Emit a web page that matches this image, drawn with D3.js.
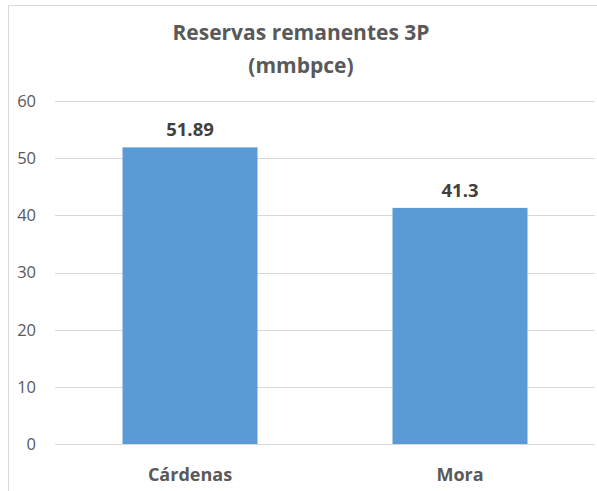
<!DOCTYPE html>
<html>
<head>
<meta charset="utf-8">
<script src="https://cdn.jsdelivr.net/npm/d3@7"></script>
<style>
  body { margin: 0; background: #fff; }
  svg { display: block; font-family: "Open Sans", sans-serif; }
  .grid line { stroke: #d9d9d9; stroke-width: 1; }
  .tick-label { fill: #595959; font-size: 16.5px; }
  .cat-label { fill: #595959; font-size: 18px; font-weight: bold; }
  .val-label { fill: #404040; font-size: 18.5px; font-weight: bold; }
  .title { fill: #595959; font-size: 21px; font-weight: bold; }
</style>
</head>
<body>
<div id="chart"></div>
<script>
// chart data
var categories = ["Cárdenas", "Mora"];
var reservas = [51.89, 41.3];
var valueLabels = ["51.89", "41.3"];
var yTicks = [0, 10, 20, 30, 40, 50, 60];
var titleLines = ["Reservas remanentes 3P", "(mmbpce)"];

var width = 597, height = 491;
var margin = {top: 101, right: 2, bottom: 47, left: 55};
var w = width - margin.left - margin.right;
var h = height - margin.top - margin.bottom;

var svg = d3.select("#chart").append("svg")
    .attr("width", width)
    .attr("height", height);

// chart area border (cropped at right and bottom)
svg.append("rect")
    .attr("x", 8.5).attr("y", 5.5)
    .attr("width", width + 20).attr("height", height + 20)
    .attr("fill", "none")
    .attr("stroke", "#d9d9d9");

var x = d3.scaleBand().domain(categories).range([0, w]).paddingInner(0.5).paddingOuter(0.25);
var y = d3.scaleLinear().domain([0, 60]).range([h, 0]);

var g = svg.append("g").attr("transform", "translate(" + margin.left + "," + margin.top + ")");

// gridlines
g.append("g").attr("class", "grid")
  .selectAll("line")
  .data(yTicks)
  .enter().append("line")
    .attr("x1", 0).attr("x2", w)
    .attr("y1", function(d) { return Math.round(y(d)) + 0.5; })
    .attr("y2", function(d) { return Math.round(y(d)) + 0.5; });

// y tick labels
g.selectAll(".tick-label")
  .data(yTicks)
  .enter().append("text")
    .attr("class", "tick-label")
    .attr("x", -19)
    .attr("y", function(d) { return y(d); })
    .attr("dy", "0.36em")
    .attr("text-anchor", "end")
    .text(function(d) { return d; });

// bars
g.selectAll(".bar")
  .data(reservas)
  .enter().append("rect")
    .attr("class", "bar")
    .attr("x", function(d, i) { return x(categories[i]); })
    .attr("width", x.bandwidth())
    .attr("y", function(d) { return y(d); })
    .attr("height", function(d) { return h - y(d); })
    .attr("fill", "#5b9bd5");

// value labels
g.selectAll(".val-label")
  .data(reservas)
  .enter().append("text")
    .attr("class", "val-label")
    .attr("x", function(d, i) { return x(categories[i]) + x.bandwidth() / 2; })
    .attr("y", function(d) { return y(d) - 11; })
    .attr("text-anchor", "middle")
    .text(function(d, i) { return valueLabels[i]; });

// category labels
g.selectAll(".cat-label")
  .data(categories)
  .enter().append("text")
    .attr("class", "cat-label")
    .attr("x", function(d) { return x(d) + x.bandwidth() / 2; })
    .attr("y", h + 37)
    .attr("text-anchor", "middle")
    .text(function(d) { return d; });

// title
svg.selectAll(".title")
  .data(titleLines)
  .enter().append("text")
    .attr("class", "title")
    .attr("x", 301)
    .attr("y", function(d, i) { return 40 + i * 33; })
    .attr("text-anchor", "middle")
    .text(function(d) { return d; });
</script>
</body>
</html>
